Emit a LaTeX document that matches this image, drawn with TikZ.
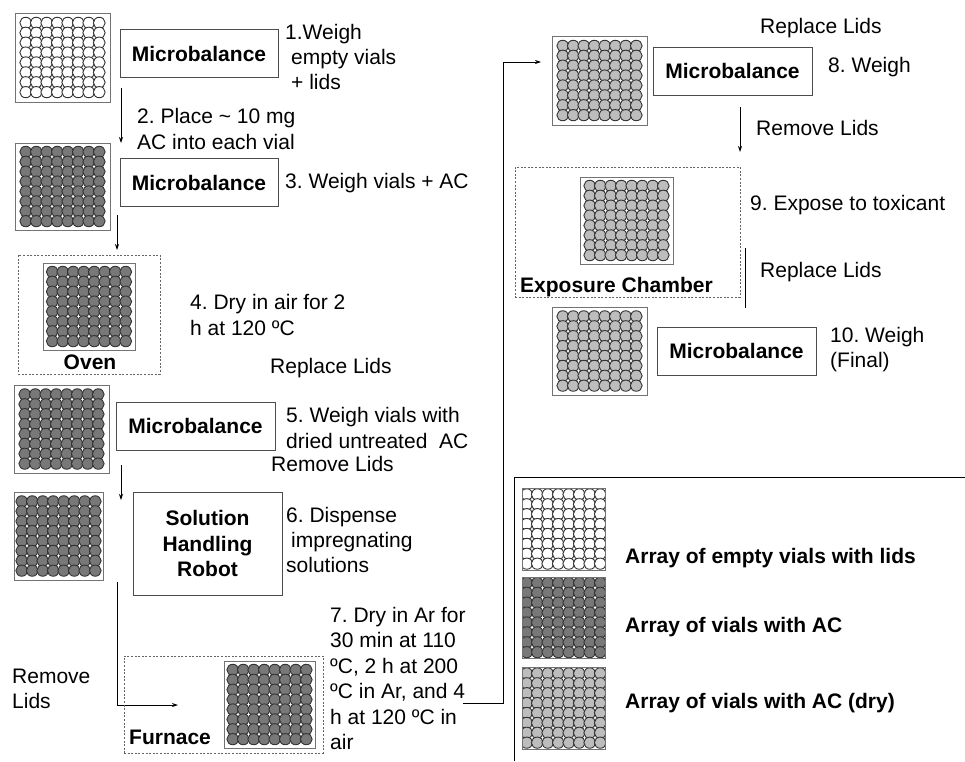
\documentclass[tikz,border=0pt]{standalone}
\usepackage{fontspec}
\setmainfont{Liberation Sans}
\usetikzlibrary{arrows.meta}
\newcommand\labfont{\fontsize{21}{25.4}\selectfont\frenchspacing}
\definecolor{wetac}{gray}{0.47}
\definecolor{dryac}{gray}{0.74}

\begin{document}
\begin{tikzpicture}[x=1pt, y=-1pt, font=\labfont,
  vials/.style n args={3}{draw=black!55, fill=white, line width=0.9pt, inner sep=0pt,
    minimum width=#2pt, minimum height=#3pt,
    path picture={
      \begin{scope}[shift={(path picture bounding box.center)}, xscale=#2/95, yscale=#3/88]
        \foreach \i in {0,...,7}
          \foreach \j in {0,...,7}
            \draw[black!80, fill=#1, line width=0.9pt]
              ({(\i-3.5)*10.5},{(\j-3.5)*9.9}) ellipse [x radius=5.9pt, y radius=5.6pt];
      \end{scope}}},
  mb/.style={draw=black!70, fill=white, line width=0.8pt, font=\labfont\bfseries,
    minimum width=158pt, minimum height=48pt, inner sep=0pt},
  room/.style={draw=black!60, line width=0.8pt, dash pattern=on 2pt off 1.6pt},
  note/.style={anchor=west, align=left, inner sep=0pt},
  tag/.style={anchor=west, inner sep=0pt, font=\labfont\bfseries},
  arr/.style={line width=0.8pt, -{Stealth[length=6pt, width=4pt]}},
  link/.style={line width=0.8pt}]

  \useasboundingbox (0,0) rectangle (965,761);

  % left column
  \node[vials={white}{95}{89}] (emptyA) at (62.5,57.5) {};
  \node[mb] (mbA) at (199,53.5) {Microbalance};
  \node[note] (stA) at (285,57) {1.Weigh\\\hspace{6pt}empty vials\\\hspace{6pt}+ lids};
  \coordinate (dA1) at (121,88);
  \coordinate (dA2) at (121,143);
  \draw[arr] (dA1) -- (dA2);
  \node[note] (stB) at (137,129) {2. Place \textasciitilde{} 10 mg\\AC into each vial};

  \node[vials={wetac}{95}{87}] (wetA) at (62.5,186.5) {};
  \node[mb] (mbB) at (199,182.5) {Microbalance};
  \node[note] (stC) at (285,183) {3. Weigh vials + AC};
  \coordinate (dB1) at (117,215);
  \coordinate (dB2) at (117,250);
  \draw[arr] (dB1) -- (dB2);

  \node[room, minimum width=142pt, minimum height=119pt] (oven) at (89,314.5) {};
  \node[vials={wetac}{92}{87}] (wetB) at (89,306.5) {};
  \node[font=\labfont\bfseries, inner sep=0pt] (ovenlab) at (90,362) {Oven};
  \node[note] (stD) at (190,315) {4. Dry in air for 2\\h at 120 ºC};
  \node[note] (lidA) at (270,368) {Replace Lids};

  \node[vials={wetac}{95}{88}] (wetC) at (61.5,429) {};
  \node[mb, minimum width=159pt] (mbC) at (195.5,426) {Microbalance};
  \node[note] (stE) at (286,428) {5. Weigh vials with\\dried untreated\ \ AC};
  \node[note] (lidB) at (271,464) {Remove Lids};
  \coordinate (dC1) at (121,465);
  \coordinate (dC2) at (121,500);
  \draw[arr] (dC1) -- (dC2);

  \node[vials={wetac}{89}{88}] (wetD) at (58.5,536) {};
  \node[mb, minimum width=149pt, minimum height=103pt, align=center] (robot) at (207.5,543.5) {Solution\\Handling\\Robot};
  \node[note] (stF) at (286,540) {6. Dispense\\\hspace{5pt}impregnating\\solutions};
  \coordinate (dD1) at (117,582);
  \coordinate (dD2) at (178,705);
  \draw[arr] (dD1) |- (dD2);
  \node[note] (lidC) at (12,689) {Remove\\Lids};

  \node[room, minimum width=199pt, minimum height=97pt] (furnace) at (223.5,704.5) {};
  \node[vials={wetac}{91}{87}] (wetE) at (269.5,704.5) {};
  \node[tag] (furnlab) at (129,737) {Furnace};
  \node[note] (stG) at (330,678.5) {7. Dry in Ar for\\30 min at 110\\ºC, 2 h at 200\\ºC in Ar, and 4\\h at 120 ºC in\\air};

  % right column
  \node[vials={dryac}{95}{89}] (dryA) at (599.5,80.5) {};
  \node[mb, minimum width=159pt] (mbD) at (732.5,71) {Microbalance};
  \node[note] (stH) at (828,67) {8. Weigh};
  \node[note] (lidD) at (760,28) {Replace Lids};
  \coordinate (dE1) at (463,703);
  \coordinate (dE2) at (503,703);
  \coordinate (dE3) at (541,62);
  \draw[arr] (dE1) -- (dE2) |- (dE3);
  \coordinate (dF1) at (740,107);
  \coordinate (dF2) at (740,152);
  \draw[arr] (dF1) -- (dF2);
  \node[note] (lidE) at (756,128) {Remove Lids};

  \node[room, minimum width=225pt, minimum height=130pt] (exposure) at (627.5,232) {};
  \node[vials={dryac}{93}{87}] (dryB) at (626.5,220.5) {};
  \node[tag] (explab) at (520,287) {Exposure Chamber};
  \node[note] (stI) at (750,205) {9. Expose to toxicant};
  \coordinate (dG1) at (745,248);
  \coordinate (dG2) at (745,308);
  \draw[link] (dG1) -- (dG2);
  \node[note] (lidF) at (760,272) {Replace Lids};

  \node[vials={dryac}{95}{88}] (dryC) at (599.5,351) {};
  \node[mb, minimum width=159pt] (mbE) at (736.5,351) {Microbalance};
  \node[note] (stJ) at (830,349.5) {10. Weigh\\(Final)};

  % key
  \coordinate (keyA) at (514,761);
  \coordinate (keyB) at (514,477);
  \coordinate (keyC) at (965,477);
  \draw[link] (keyA) -- (keyB) -- (keyC);
  \node[vials={white}{83}{82}] (keyempty) at (563.5,529) {};
  \node[vials={wetac}{83}{81}] (keywet) at (563.5,617.5) {};
  \node[vials={dryac}{83}{82}] (keydry) at (563.5,708) {};
  \node[tag] (keyemptylab) at (625,558) {Array of empty vials with lids};
  \node[tag] (keywetlab) at (625,627) {Array of vials with AC};
  \node[tag] (keydrylab) at (625,703) {Array of vials with AC (dry)};
\end{tikzpicture}
\end{document}
